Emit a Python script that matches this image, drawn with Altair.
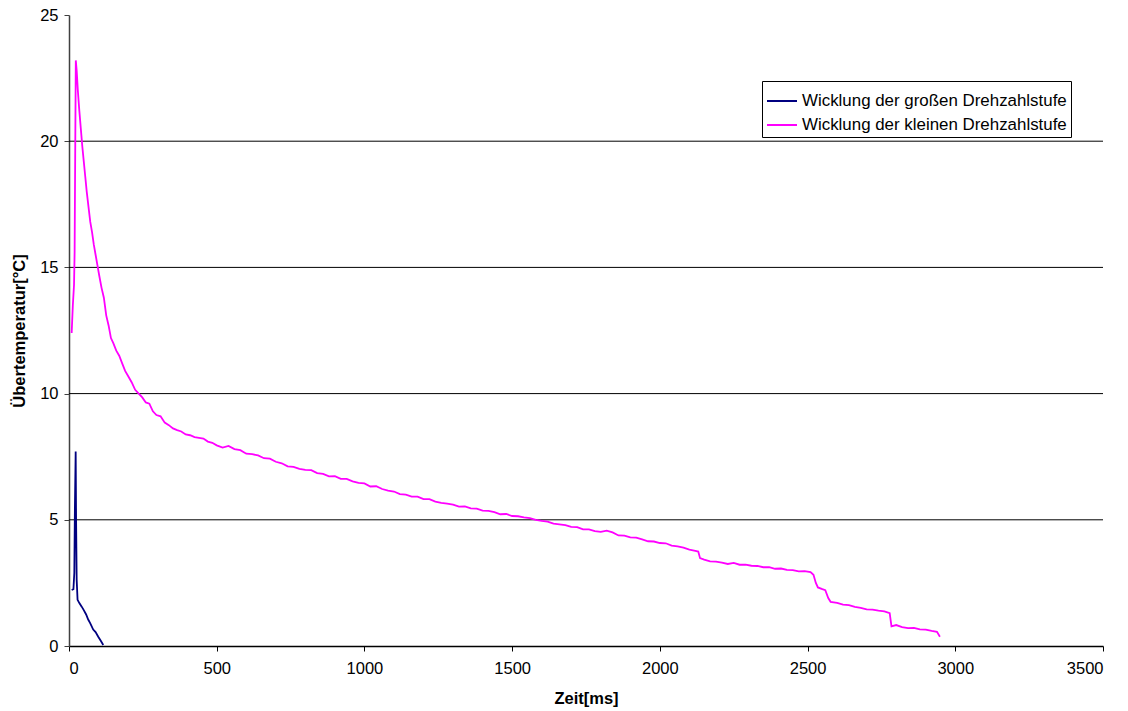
import altair as alt
import pandas as pd

# Winding over-temperature after switch-off, small speed step
t_klein = [9, 13, 17, 19, 21, 23, 26, 30, 35, 40, 45, 50, 55, 60, 66, 72, 78, 84, 90, 96,
           102, 110, 118, 126, 134, 142, 150, 160, 170, 180, 190, 200, 212, 224, 236, 248,
           260, 272, 284, 296, 310, 324, 338, 352, 366, 380, 395, 410, 425, 440, 455, 470,
           485, 500, 520, 540, 560, 580, 600, 620, 640, 660, 680, 700, 720, 740, 760, 780,
           800, 820, 840, 860, 880, 900, 920, 940, 960, 980, 1000, 1020, 1040, 1060, 1080,
           1100, 1120, 1140, 1160, 1180, 1200, 1220, 1240, 1260, 1280, 1300, 1320, 1340,
           1360, 1380, 1400, 1420, 1440, 1460, 1480, 1500, 1520, 1540, 1560, 1580, 1600,
           1620, 1640, 1660, 1680, 1700, 1720, 1740, 1760, 1780, 1800, 1820, 1840, 1860,
           1880, 1900, 1920, 1940, 1960, 1980, 2000, 2020, 2040, 2060, 2080, 2100, 2120,
           2130, 2136, 2150, 2170, 2190, 2210, 2230, 2250, 2270, 2290, 2310, 2330, 2350,
           2370, 2390, 2410, 2430, 2450, 2470, 2490, 2510, 2520, 2528, 2535, 2550, 2560,
           2570, 2578, 2600, 2620, 2640, 2660, 2680, 2700, 2720, 2740, 2760, 2778, 2784,
           2800, 2820, 2840, 2860, 2880, 2900, 2920, 2938, 2948]
y_klein = [12.4, 13.5, 14.3, 15.6, 19.5, 23.2, 22.8, 22.0, 21.2, 20.5, 19.8, 19.2, 18.6,
           18.0, 17.4, 16.8, 16.4, 15.9, 15.5, 15.1, 14.7, 14.2, 13.8, 13.1, 12.7, 12.2,
           12.0, 11.7, 11.5, 11.2, 10.9, 10.7, 10.45, 10.15, 10.0, 9.85, 9.65, 9.6, 9.3,
           9.15, 9.1, 8.85, 8.75, 8.62, 8.55, 8.5, 8.38, 8.35, 8.28, 8.25, 8.22, 8.1, 8.05,
           7.95, 7.86, 7.93, 7.8, 7.76, 7.62, 7.6, 7.55, 7.44, 7.42, 7.3, 7.24, 7.12, 7.1,
           7.02, 6.98, 6.97, 6.85, 6.82, 6.72, 6.73, 6.62, 6.62, 6.52, 6.46, 6.44, 6.32,
           6.33, 6.22, 6.16, 6.12, 6.02, 6.0, 5.92, 5.92, 5.82, 5.82, 5.72, 5.67, 5.64,
           5.6, 5.52, 5.53, 5.45, 5.44, 5.36, 5.35, 5.3, 5.22, 5.23, 5.15, 5.14, 5.1, 5.07,
           5.0, 4.96, 4.93, 4.85, 4.82, 4.79, 4.72, 4.71, 4.62, 4.62, 4.55, 4.52, 4.57,
           4.5, 4.38, 4.37, 4.3, 4.29, 4.22, 4.15, 4.14, 4.08, 4.07, 3.98, 3.95, 3.9, 3.82,
           3.77, 3.74, 3.48, 3.42, 3.35, 3.34, 3.3, 3.25, 3.29, 3.22, 3.22, 3.18, 3.17,
           3.12, 3.12, 3.06, 3.07, 3.02, 3.01, 2.96, 2.97, 2.93, 2.82, 2.5, 2.32, 2.25,
           2.21, 1.9, 1.75, 1.71, 1.64, 1.62, 1.55, 1.51, 1.45, 1.44, 1.4, 1.37, 1.3, 0.78,
           0.83, 0.75, 0.71, 0.72, 0.66, 0.65, 0.6, 0.56, 0.37]

# Winding over-temperature, large speed step
t_gross = [9, 15, 18, 20, 22.6, 24, 26, 29, 35, 43, 50, 58, 65, 72, 82, 90, 99, 108, 116]
y_gross = [2.22, 2.25, 2.9, 5.5, 7.71, 5.0, 2.62, 1.83, 1.7, 1.56, 1.42, 1.25, 1.05, 0.9,
           0.65, 0.55, 0.37, 0.2, 0.04]

series_names = ["Wicklung der großen Drehzahlstufe", "Wicklung der kleinen Drehzahlstufe"]
series_colors = ["#000080", "#FF00FF"]
grid_levels = [5, 10, 15, 20]
x_ticks = [0, 500, 1000, 1500, 2000, 2500, 3000, 3500]
y_ticks = [0, 5, 10, 15, 20, 25]

df = pd.concat([
    pd.DataFrame({"t": t_gross, "v": y_gross, "serie": series_names[0]}),
    pd.DataFrame({"t": t_klein, "v": y_klein, "serie": series_names[1]}),
])
grid_df = pd.DataFrame({"v": grid_levels})

FONT = "Liberation Sans"
FS = 16.5

x_scale = alt.Scale(domain=[0, 3500], nice=False)
y_scale = alt.Scale(domain=[0, 25], nice=False)

y_axis = alt.Axis(values=y_ticks, grid=False, domainColor="#404040",
                  tickColor="#404040", tickSize=5, labelPadding=6, titlePadding=12)
y_title = "Übertemperatur[°C]"

grid = alt.Chart(grid_df).mark_rule(color="black", strokeWidth=1).encode(
    y=alt.Y("v:Q", scale=y_scale, title=y_title, axis=y_axis)
)

lines = alt.Chart(df).mark_line(strokeWidth=1.8, interpolate="linear").encode(
    x=alt.X("t:Q", scale=x_scale, title="Zeit[ms]",
            axis=alt.Axis(values=x_ticks, grid=False, domainColor="#000000",
                          tickColor="#000000", tickSize=5, labelPadding=9,
                          titlePadding=14, format="d")),
    y=alt.Y("v:Q", scale=y_scale, title=y_title, axis=y_axis),
    color=alt.Color("serie:N",
                    scale=alt.Scale(domain=series_names, range=series_colors),
                    legend=alt.Legend(title=None, orient="none", legendX=693, legendY=66,
                                      fillColor="white", strokeColor="black",
                                      padding=4, symbolType="stroke", symbolSize=900,
                                      symbolStrokeWidth=2, labelFontSize=16.9,
                                      labelFont=FONT, labelColor="black", labelLimit=0,
                                      rowPadding=0, labelOffset=4)),
    order="t:Q",
)

chart = alt.layer(grid, lines).properties(
    width=1034, height=631,
    padding={"left": 69, "top": 15, "right": 25, "bottom": 65},
    autosize=alt.AutoSizeParams(type="none"),
).configure_view(stroke=None).configure_axis(
    labelFont=FONT, labelFontSize=FS, labelColor="black",
    titleFont=FONT, titleFontSize=FS, titleFontWeight="bold", titleColor="black",
    domainWidth=1.5,
)

chart.save("out.html", embed_options={"renderer": "svg", "actions": False})
